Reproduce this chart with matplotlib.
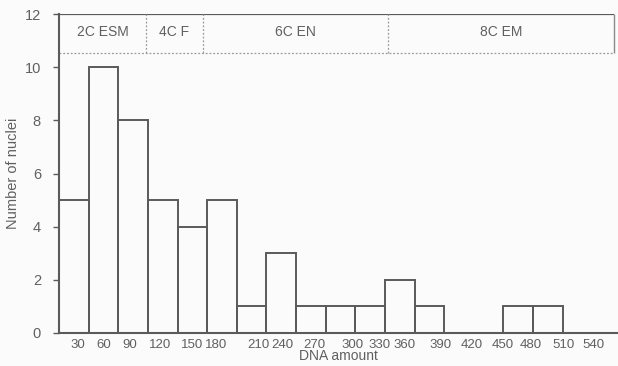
import matplotlib
matplotlib.use("Agg")
import matplotlib.pyplot as plt

# histogram of nuclear DNA amount (bin width 30)
bin_edges = [0, 30, 60, 90, 120, 150, 180, 210, 240, 270, 300, 330, 360, 390, 420, 450, 480, 510]
counts = [5, 10, 8, 5, 4, 5, 1, 3, 1, 1, 1, 2, 1, 0, 0, 1, 1]

# tick labels and where they sit on the x axis
tick_labels = ["30", "60", "90", "120", "150", "180", "210", "240", "270",
               "300", "330", "360", "390", "420", "450", "480", "510", "540"]
tick_pos = [19, 45, 72, 102, 135, 159, 202, 226, 259,
            297, 325, 350, 386, 418, 449, 478, 511, 541]

# ploidy regions shown in the header band
region_names = ["2C ESM", "4C F", "6C EN", "8C EM"]
region_bounds = [0, 88, 146, 333, 562]

plt.rcParams["font.family"] = ["Liberation Sans", "DejaVu Sans"]
ink = "#5a5a5a"
txt = "#606060"

fig = plt.figure(figsize=(6.18, 3.66), dpi=100, facecolor="#fbfbfb")
ax = fig.add_axes([59 / 618, 1 - 333 / 366, 558 / 618, 319 / 366])
ax.set_facecolor("#fbfbfb")

widths = [bin_edges[i + 1] - bin_edges[i] for i in range(len(counts))]
ax.bar(bin_edges[:-1], counts, width=widths, align="edge",
       facecolor="none", edgecolor=ink, linewidth=1.4)

ax.set_xlim(0, 565)
ax.set_ylim(0, 12)

# header band
band_lo = 10.55
ax.hlines(12, region_bounds[0], region_bounds[-1], color=ink, linewidth=1.6)
ax.hlines(band_lo, region_bounds[0], region_bounds[-1], color="#9a9a9a",
          linewidth=0.9, linestyles=(0, (1.5, 1.5)))
ax.vlines(region_bounds[1:-1], band_lo, 12, color="#9a9a9a",
          linewidth=0.9, linestyles=(0, (1.5, 1.5)))
ax.vlines(region_bounds[-1], band_lo, 12, color="#8a8a8a", linewidth=1.0)
for i, name in enumerate(region_names):
    cx = (region_bounds[i] + region_bounds[i + 1]) / 2
    ax.text(cx, (band_lo + 12) / 2 + 0.05, name, ha="center", va="center",
            fontsize=10, color=txt)

for side in ["top", "right"]:
    ax.spines[side].set_visible(False)
for side in ["left", "bottom"]:
    ax.spines[side].set_color(ink)
    ax.spines[side].set_linewidth(1.5)

ax.set_yticks(range(0, 13, 2))
ax.tick_params(axis="y", length=4, width=1, color=ink, labelcolor=txt,
               labelsize=10.5, pad=9)
ax.set_xticks(tick_pos)
ax.set_xticklabels(tick_labels)
ax.tick_params(axis="x", length=0, labelcolor=txt, labelsize=9.5, pad=4)

ax.set_xlabel("DNA amount", fontsize=10, color=txt, labelpad=-1)
ax.set_ylabel("Number of nuclei", fontsize=10.5, color=txt, labelpad=3)

fig.savefig("out.png", dpi=100, facecolor=fig.get_facecolor())
